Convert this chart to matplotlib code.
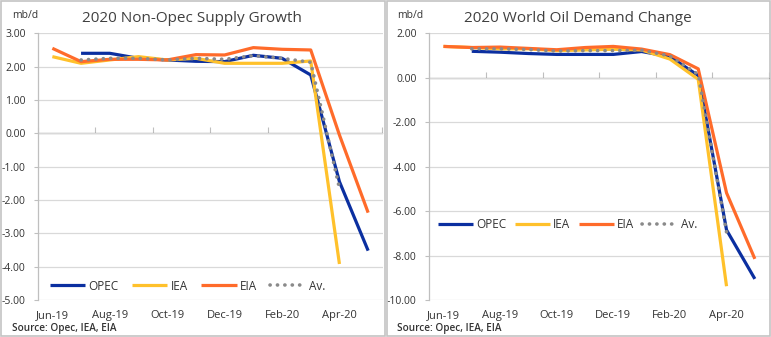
import numpy as np
import matplotlib.pyplot as plt
from matplotlib.patches import Rectangle

# -----------------------------
# Data (mb/d)
# -----------------------------
months = ["Jun-19", "Jul-19", "Aug-19", "Sep-19", "Oct-19", "Nov-19",
          "Dec-19", "Jan-20", "Feb-20", "Mar-20", "Apr-20", "May-20"]
nan = np.nan

supply_opec = [nan, 2.40, 2.40, 2.25, 2.20, 2.16, 2.15, 2.34, 2.25, 1.75, -1.45, -3.52]
supply_iea = [2.30, 2.10, 2.20, 2.30, 2.20, 2.25, 2.10, 2.10, 2.10, 2.17, -3.92, nan]
supply_eia = [2.55, 2.15, 2.22, 2.22, 2.20, 2.36, 2.35, 2.57, 2.52, 2.50, -0.05, -2.38]
supply_av = [nan, 2.20, 2.25, 2.25, 2.20, 2.25, 2.22, 2.33, 2.25, 2.13, -1.65, nan]

demand_opec = [nan, 1.19, 1.15, 1.09, 1.05, 1.05, 1.05, 1.18, 0.95, 0.10, -6.85, -9.05]
demand_iea = [1.41, 1.36, 1.30, 1.30, 1.22, 1.25, 1.28, 1.25, 0.84, -0.07, -9.38, nan]
demand_eia = [1.41, 1.36, 1.38, 1.32, 1.26, 1.36, 1.41, 1.29, 1.04, 0.40, -5.18, -8.15]
demand_av = [nan, 1.30, 1.30, 1.27, 1.20, 1.22, 1.22, 1.24, 0.98, 0.15, -6.95, nan]

# -----------------------------
# Style
# -----------------------------
plt.rcParams["font.family"] = ["Open Sans", "DejaVu Sans"]

W, H = 771, 337
C_OPEC = "#0b2fa0"
C_IEA = "#ffc12b"
C_EIA = "#ff6b2a"
C_AV = "#8a8a8a"
C_GRID = "#d9d9d9"
C_AXIS = "#bfbfbf"
C_TEXT = "#333333"


def fx(px):
    return px / W


def fy(py):
    return 1 - py / H


fig = plt.figure(figsize=(W / 100, H / 100), dpi=100)

# panel borders
for x0, x1 in [(1, 384.5), (386.5, 770)]:
    fig.patches.append(Rectangle((fx(x0), fy(336)), fx(x1) - fx(x0), fy(1) - fy(336),
                                 transform=fig.transFigure, fill=False,
                                 edgecolor="#c4c4c4", linewidth=1.2))


def make_panel(left_px, right_px, series, ylim, ystep, title, title_x,
               leg_x_px, leg_y_px, colspace, text_x):
    ax = fig.add_axes([fx(left_px), fy(300), fx(right_px) - fx(left_px), fy(33.3) - fy(300)])
    x = np.arange(len(months))
    opec, iea, eia, av = series

    ax.plot(x, opec, color=C_OPEC, lw=2.3, label="OPEC", solid_capstyle="butt")
    ax.plot(x, iea, color=C_IEA, lw=2.3, label="IEA", solid_capstyle="butt")
    ax.plot(x, eia, color=C_EIA, lw=2.3, label="EIA", solid_capstyle="butt")
    ax.plot(x, av, color=C_AV, lw=2.6, label="Av.", linestyle=(0, (0.05, 2.0)),
            dash_capstyle="round")

    ax.set_xlim(-0.5, len(months) - 0.5)
    ax.set_ylim(*ylim)
    yt = np.arange(ylim[0], ylim[1] + 0.01, ystep)
    ax.set_yticks(yt)
    ax.set_yticklabels([f"{v:.2f}" for v in yt])
    ax.yaxis.grid(True, color=C_GRID, lw=0.9)
    ax.set_axisbelow(True)

    ax.set_xticks(x[::2])
    ax.set_xticklabels(months[::2])
    ax.tick_params(axis="x", length=0, pad=7, labelsize=8, labelcolor=C_TEXT)
    ax.tick_params(axis="y", length=3, width=0.8, color=C_AXIS, pad=6,
                   labelsize=7.5, labelcolor=C_TEXT)

    for s in ["top", "right", "bottom"]:
        ax.spines[s].set_visible(False)
    ax.spines["left"].set_color(C_AXIS)
    ax.spines["left"].set_linewidth(0.9)

    # category axis crossing at zero
    zero = (0 - ylim[0]) / (ylim[1] - ylim[0])
    sec = ax.secondary_xaxis(zero)
    sec.set_xticks(np.arange(-0.5, len(months), 2))
    sec.set_xticklabels([])
    sec.tick_params(length=4, width=0.8, color=C_AXIS, direction="out")
    sec.spines["bottom"].set_color(C_AXIS)
    sec.spines["bottom"].set_linewidth(0.9)

    ax.legend(loc="center left", ncol=4, frameon=False, fontsize=8.5,
              bbox_to_anchor=((leg_x_px - left_px) / (right_px - left_px),
                              (300 - leg_y_px) / (300 - 33.3)),
              borderpad=0, borderaxespad=0, handlelength=3.0,
              handletextpad=0.25, columnspacing=colspace,
              labelcolor=C_TEXT)

    fig.text(fx(title_x), fy(18), title, fontsize=11, color="#404040",
             ha="center", va="center")
    fig.text(fx(text_x), fy(16), "mb/d", fontsize=7.5, color=C_TEXT,
             ha="left", va="center")
    fig.text(fx(text_x), fy(328), "Source: Opec, IEA, EIA", fontsize=7.2,
             color=C_TEXT, fontweight="semibold", ha="left", va="center")
    return ax


make_panel(38, 382.5, (supply_opec, supply_iea, supply_eia, supply_av),
           (-5, 3), 1, "2020 Non-Opec Supply Growth", 191.7, 50, 286, 1.15, 12)
make_panel(429.3, 769, (demand_opec, demand_iea, demand_eia, demand_av),
           (-10, 2), 2, "2020 World Oil Demand Change", 577.5, 438, 225, 0.7, 397)

fig.savefig("out.png", dpi=100)
